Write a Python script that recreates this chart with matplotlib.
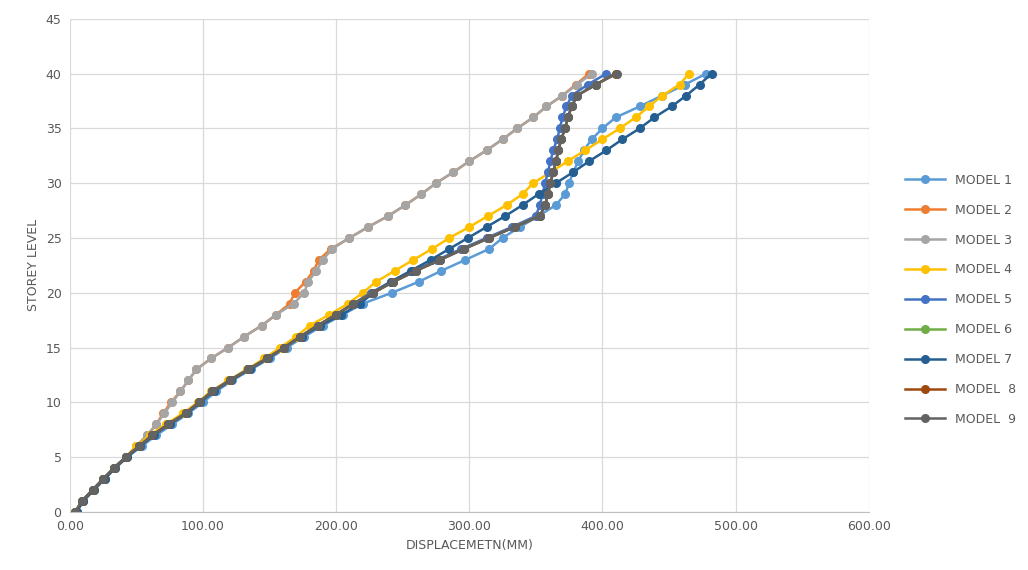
import matplotlib
matplotlib.use("Agg")
import matplotlib.pyplot as plt

# storey levels 0..40
levels = list(range(41))

model_1 = [5, 10, 17, 25, 34, 43, 54, 65, 77, 89, 100, 110, 122, 136, 150, 163,
           176, 190, 205, 220, 242, 262, 279, 297, 315, 325, 338, 352, 365, 372,
           375, 378, 382, 386, 392, 400, 410, 428, 445, 462, 478]
model_2 = [4, 10, 18, 26, 34, 42, 50, 58, 65, 70, 76, 83, 89, 95, 106, 119,
           131, 144, 155, 165, 169, 177, 183, 187, 196, 210, 224, 239, 252, 264,
           275, 288, 300, 313, 325, 336, 348, 358, 370, 380, 390]
model_3 = [4, 10, 18, 26, 34, 42, 50, 58, 65, 71, 77, 83, 89, 95, 106, 119,
           131, 144, 155, 168, 176, 179, 185, 190, 197, 210, 224, 239, 252, 264,
           275, 288, 300, 313, 325, 336, 348, 358, 370, 381, 392]
model_4 = [5, 10, 18, 25, 33, 42, 50, 60, 72, 85, 96, 106, 119, 133, 146, 158,
           170, 180, 195, 209, 220, 230, 244, 258, 272, 285, 300, 314, 328, 340,
           348, 361, 374, 387, 400, 413, 425, 435, 445, 458, 465]
model_5 = [5, 10, 17, 25, 33, 42, 52, 62, 74, 87, 97, 107, 120, 134, 148, 161,
           173, 186, 200, 213, 226, 241, 258, 276, 294, 313, 332, 350, 353, 355,
           357, 359, 361, 363, 366, 368, 370, 373, 377, 389, 403]
model_6 = [4, 9, 17, 25, 33, 42, 52, 62, 74, 87, 97, 107, 120, 134, 148, 161,
           173, 186, 200, 213, 228, 243, 260, 278, 296, 315, 334, 353, 357, 359,
           361, 363, 365, 367, 369, 372, 374, 377, 381, 395, 410]
model_7 = [5, 10, 18, 26, 34, 43, 53, 63, 75, 88, 98, 108, 121, 135, 149, 161,
           174, 188, 204, 218, 228, 241, 256, 271, 285, 299, 313, 327, 340, 352,
           365, 378, 390, 403, 415, 428, 439, 452, 463, 473, 482]
model_8 = [4, 9, 17, 25, 33, 42, 52, 62, 74, 87, 97, 107, 120, 134, 148, 161,
           173, 186, 200, 213, 228, 243, 260, 278, 296, 315, 334, 353, 357, 359,
           361, 363, 365, 367, 369, 372, 374, 377, 381, 395, 410]
model_9 = [4, 9, 17, 25, 33, 42, 52, 62, 74, 87, 97, 107, 120, 134, 148, 161,
           173, 186, 200, 213, 228, 243, 260, 278, 296, 315, 334, 353, 357, 359,
           361, 363, 365, 367, 369, 372, 374, 377, 381, 395, 411]

labels = ["MODEL 1", "MODEL 2", "MODEL 3", "MODEL 4", "MODEL 5",
          "MODEL 6", "MODEL 7", "MODEL  8", "MODEL  9"]
series = [model_1, model_2, model_3, model_4, model_5,
          model_6, model_7, model_8, model_9]
colors = ["#5B9BD5", "#ED7D31", "#A5A5A5", "#FFC000", "#4472C4",
          "#70AD47", "#255E91", "#9E480E", "#636363"]

txt = "#595959"
fig = plt.figure(figsize=(10.28, 5.70), dpi=100)
ax = fig.add_axes([0.068, 0.102, 0.777, 0.865])

for vals, lab, c in zip(series, labels, colors):
    ax.plot(vals, levels, "o-", color=c, lw=1.8, ms=5.5, label=lab)

ax.set_xlim(0, 600)
ax.set_ylim(0, 45)
ax.set_xticks(range(0, 601, 100))
ax.set_xticklabels([f"{v:.2f}" for v in range(0, 601, 100)])
ax.set_yticks(range(0, 46, 5))
ax.tick_params(colors=txt, labelsize=9, length=0, pad=6)
ax.grid(color="#D9D9D9", lw=0.9)
ax.set_axisbelow(True)
for s in ["top", "right", "left"]:
    ax.spines[s].set_visible(False)
ax.spines["bottom"].set_color("#BFBFBF")

ax.set_xlabel("DISPLACEMETN(MM)", color=txt, fontsize=9)
ax.set_ylabel("STOREY LEVEL", color=txt, fontsize=9)

ax.legend(loc="center left", bbox_to_anchor=(1.032, 0.43), frameon=False,
          fontsize=9, labelcolor=txt, handlelength=3.2, labelspacing=1.35)

fig.savefig("out.png", dpi=100)
